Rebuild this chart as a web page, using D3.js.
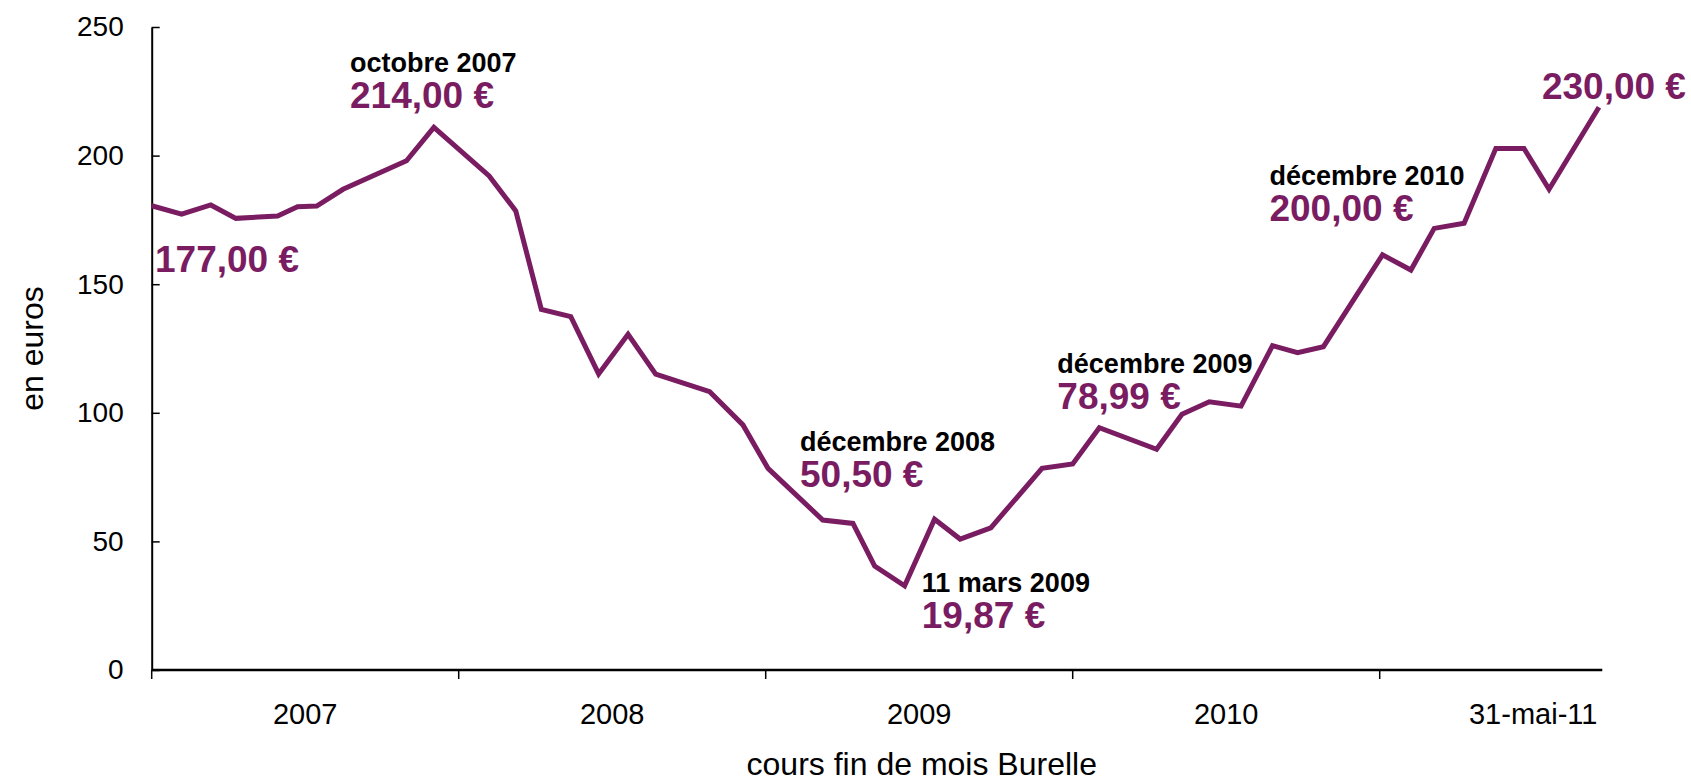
<!doctype html>
<html lang="fr">
  <head>
    <meta charset="UTF-8" />
    <title>Cours Burelle</title>
    <style>
      body { margin: 0; background: #fff; }
      svg text { font-family: "Liberation Sans", Arial, sans-serif; }
    </style>
  </head>
  <body>
    <svg id="chart"></svg>
    <script src="https://d3js.org/d3.v7.min.js"></script>
    <script>
      /* global d3 */

      // month index since janvier 2007 (fractional) and month-end price in euros
      const months = [
        0, 1.17, 2.31, 3.29, 4.92, 5.7, 6.45, 7.48, 9.96, 11.03,
        13.19, 14.23, 15.23, 16.38, 17.47, 18.62, 19.7, 21.81, 23.11, 24.09,
        26.23, 27.41, 28.26, 29.43, 30.6, 31.6, 32.8, 34.8, 36.0, 37.04,
        39.28, 40.27, 41.34, 42.58, 43.81, 44.79, 45.8, 48.11, 49.22, 50.13,
        51.3, 52.54, 53.64, 54.62, 56.57
      ];
      const prices = [
        180.5, 177.2, 180.8, 175.6, 176.5, 180.1, 180.4, 186.9, 198.0, 211.0,
        192.1, 178.5, 140.2, 137.4, 115.1, 130.5, 115.0, 108.2, 95.3, 78.4,
        58.3, 57.0, 40.4, 32.7, 58.6, 50.9, 55.3, 78.4, 80.1, 94.2,
        85.8, 99.4, 104.3, 102.6, 126.1, 123.4, 125.7, 161.4, 155.5, 171.7,
        173.7, 202.8, 202.8, 186.9, 218.8
      ];

      const categories = ["2007", "2008", "2009", "2010", "31-mai-11"];
      const yTicks = [0, 50, 100, 150, 200, 250];

      // annotations: date label, price label, anchor of the price text (month, euros)
      const noteDates = ["octobre 2007", "", "décembre 2008", "11 mars 2009", "décembre 2009", "décembre 2010", ""];
      const notePrices = ["214,00 €", "177,00 €", "50,50 €", "19,87 €", "78,99 €", "200,00 €", "230,00 €"];
      const noteMonths = [7.75, 0.13, 25.34, 30.1, 35.4, 43.69, 54.34];
      const noteValues = [218.4, 154.7, 71.0, 16.2, 101.4, 174.7, 221.9];

      const width = 1691, height = 783;
      const purple = "#7a1c61";
      const plotLeft = 151.7, plotTop = 27, plotBottom = 670;
      const monthsPerCat = 12;
      const axisEndMonth = 56.7;

      const svg = d3.select("#chart").attr("width", width).attr("height", height);

      const xMonth = d3.scaleLinear()
        .domain([0, categories.length * monthsPerCat])
        .range([plotLeft, plotLeft + 1535]);
      const xCat = d3.scaleBand()
        .domain(categories)
        .range(xMonth.range())
        .padding(0);
      const y = d3.scaleLinear().domain([0, 250]).range([plotBottom, plotTop]);

      // y axis
      const yAxis = svg.append("g")
        .attr("transform", `translate(${plotLeft},0)`)
        .call(d3.axisRight(y).tickValues(yTicks).tickSize(8).tickSizeOuter(0));
      yAxis.select(".domain").attr("stroke", "#000").attr("stroke-width", 2);
      yAxis.selectAll(".tick line").attr("stroke", "#000").attr("stroke-width", 1.5);
      yAxis.selectAll(".tick text")
        .attr("x", -28)
        .attr("text-anchor", "end")
        .attr("font-size", 28)
        .attr("fill", "#000");

      // x axis (categories, ticks on the boundaries)
      const xAxis = svg.append("g").attr("transform", `translate(0,${plotBottom})`);
      xAxis.append("line")
        .attr("x1", xMonth(0)).attr("x2", xMonth(axisEndMonth))
        .attr("stroke", "#000").attr("stroke-width", 2.5);
      xAxis.selectAll(".xtick")
        .data(categories.filter((c) => xCat(c) <= xMonth(axisEndMonth)))
        .join("line")
        .attr("class", "xtick")
        .attr("x1", (c) => xCat(c)).attr("x2", (c) => xCat(c))
        .attr("y1", 0).attr("y2", 9)
        .attr("stroke", "#000").attr("stroke-width", 1.5);
      xAxis.selectAll(".xlab")
        .data(categories)
        .join("text")
        .attr("class", "xlab")
        .attr("x", (c) => xCat(c) + xCat.bandwidth() / 2)
        .attr("y", 54)
        .attr("text-anchor", "middle")
        .attr("font-size", 29)
        .text((c) => c);

      // axis titles
      svg.append("text")
        .attr("transform", `translate(43,${(plotTop + plotBottom) / 2}) rotate(-90)`)
        .attr("text-anchor", "middle")
        .attr("font-size", 32)
        .text("en euros");
      svg.append("text")
        .attr("x", xMonth(30.1))
        .attr("y", 775)
        .attr("text-anchor", "middle")
        .attr("font-size", 32)
        .text("cours fin de mois Burelle");

      // price line
      const series = months.map((m, i) => ({ m, v: prices[i] }));
      svg.append("path")
        .datum(series)
        .attr("fill", "none")
        .attr("stroke", purple)
        .attr("stroke-width", 5)
        .attr("stroke-linejoin", "miter")
        .attr("d", d3.line().x((d) => xMonth(d.m)).y((d) => y(d.v)));

      // annotations
      const notes = svg.append("g").selectAll("g")
        .data(noteMonths.map((m, i) => ({ m, v: noteValues[i], date: noteDates[i], price: notePrices[i] })))
        .join("g")
        .attr("transform", (d) => `translate(${xMonth(d.m)},${y(d.v)})`);
      notes.filter((d) => d.date)
        .append("text")
        .attr("y", -36)
        .attr("font-size", 27)
        .attr("font-weight", "bold")
        .attr("fill", "#000")
        .text((d) => d.date);
      notes.append("text")
        .attr("font-size", 37)
        .attr("font-weight", "bold")
        .attr("fill", purple)
        .text((d) => d.price);
    </script>
  </body>
</html>
